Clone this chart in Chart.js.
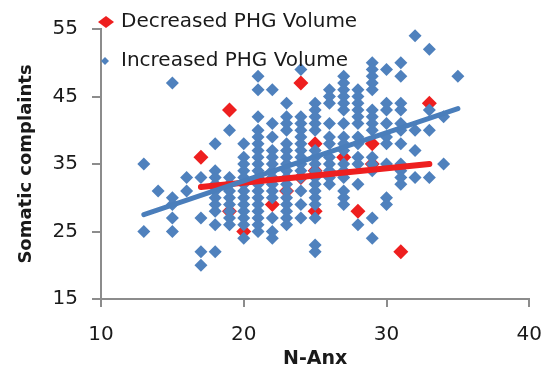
<!DOCTYPE html>
<html>
<head>
<meta charset="utf-8">
<script src="https://cdn.jsdelivr.net/npm/chart.js@4.4.0/dist/chart.umd.min.js"></script>
<style>
  body { margin: 0; background: #fff; }
  canvas { display: block; }
</style>
</head>
<body>
<canvas id="myChart" width="558" height="369"></canvas>
<script>
// N-Anx columns and the somatic complaint scores stacked at each of them
const incXs = [13, 14, 15, 16, 17, 18, 19, 20, 21, 22, 23, 24, 25, 26, 27, 28, 29, 30, 31, 32, 33, 34, 35];
const incYs = [
    [35, 25],
    [31],
    [47, 30, 29, 27, 25],
    [33, 31],
    [33, 27, 22, 20],
    [38, 34, 33, 32, 31, 30, 29, 28, 26, 22],
    [40, 33, 32, 31, 30, 29, 28, 27, 26],
    [38, 36, 35, 34, 33, 32, 31, 30, 29, 28, 27, 26, 24],
    [48, 46, 42, 40, 39, 38, 37, 36, 35, 34, 33, 32, 31, 30, 29, 28, 27, 26, 25],
    [46, 41, 39, 37, 36, 35, 34, 33, 32, 31, 30, 27, 25, 24],
    [44, 42, 41, 40, 38, 37, 36, 35, 34, 33, 32, 31, 30, 29, 28, 27, 26],
    [49, 42, 41, 40, 39, 38, 37, 36, 35, 34, 33, 31, 29, 27],
    [44, 43, 42, 41, 40, 37, 36, 35, 34, 33, 32, 31, 30, 29, 27, 23, 22],
    [46, 45, 44, 41, 39, 38, 36, 35, 34, 33, 32],
    [48, 47, 46, 45, 44, 43, 41, 39, 38, 37, 35, 34, 33, 31, 30, 29],
    [46, 45, 44, 43, 42, 41, 39, 38, 36, 35, 32, 26],
    [50, 49, 48, 47, 46, 43, 42, 41, 40, 36, 35, 34, 27, 24],
    [49, 44, 43, 41, 39, 38, 35, 30, 29],
    [50, 48, 44, 43, 41, 40, 38, 35, 34, 33, 32],
    [54, 40, 37, 33],
    [52, 43, 40, 33],
    [42, 35],
    [48]
];

const decX = [17, 19, 24, 20, 25, 29, 33, 28, 31, 25, 22, 19, 23, 24, 25, 27, 29];
const decY = [36, 43, 47, 25, 38, 38, 44, 28, 22, 28, 29, 28, 31, 33, 34, 36, 35];

// trend line end points
const incTrendX = [13, 35];
const incTrendY = [27.5, 43.2];
const decTrendX = [17, 33];
const decTrendY = [31.6, 35.0];

const xTicks = [10, 20, 30, 40];
const yTicks = [15, 25, 35, 45, 55];

const blue = "#4F81BD";
const red = "#EE1F1F";
const axisGray = "#8C8C8C";

const incPoints = incYs.flatMap((ys, i) => ys.map(y => ({ x: incXs[i], y: y })));
const decPoints = decX.map((x, i) => ({ x: x, y: decY[i] }));
const incTrend = incTrendX.map((x, i) => ({ x: x, y: incTrendY[i] }));
const decTrend = decTrendX.map((x, i) => ({ x: x, y: decTrendY[i] }));

function diamond(ctx, cx, cy, hw, hh, color) {
    ctx.beginPath();
    ctx.moveTo(cx, cy - hh);
    ctx.lineTo(cx + hw, cy);
    ctx.lineTo(cx, cy + hh);
    ctx.lineTo(cx - hw, cy);
    ctx.closePath();
    ctx.fillStyle = color;
    ctx.fill();
}

// legend sits inside the plot at the top left, drawn by hand
const legendBox = {
    id: "legendBox",
    afterDraw(chart) {
        const ctx = chart.ctx;
        ctx.save();
        diamond(ctx, 106, 22, 8, 6, red);
        diamond(ctx, 105, 61, 4, 4, blue);
        ctx.font = "20px 'DejaVu Sans'";
        ctx.fillStyle = "#1a1a1a";
        ctx.textBaseline = "middle";
        ctx.fillText("Decreased PHG Volume", 121, 22);
        ctx.fillText("Increased PHG Volume", 121, 61);
        ctx.restore();
    }
};

const config = {
    type: "scatter",
    data: {
        datasets: [
            {
                label: "Decreased PHG Volume",
                data: decPoints,
                pointStyle: "rectRot",
                pointRadius: 7.5,
                pointBorderWidth: 0,
                backgroundColor: red,
                borderColor: red,
                order: 4
            },
            {
                label: "Increased PHG Volume",
                data: incPoints,
                pointStyle: "rectRot",
                pointRadius: 6.5,
                pointBorderWidth: 0,
                backgroundColor: blue,
                borderColor: blue,
                order: 3
            },
            {
                label: "Decreased trend",
                data: decTrend,
                showLine: true,
                pointRadius: 0,
                borderColor: red,
                borderWidth: 6,
                borderCapStyle: "round",
                order: 2
            },
            {
                label: "Increased trend",
                data: incTrend,
                showLine: true,
                pointRadius: 0,
                borderColor: "#4A7EBB",
                borderWidth: 5,
                borderCapStyle: "round",
                order: 1
            }
        ]
    },
    options: {
        responsive: false,
        animation: false,
        events: [],
        layout: { padding: { top: 29, right: 16, bottom: 0, left: 0 } },
        plugins: {
            legend: { display: false },
            tooltip: { enabled: false }
        },
        scales: {
            x: {
                type: "linear",
                min: 10,
                max: 40,
                afterBuildTicks: s => { s.ticks = xTicks.map(v => ({ value: v })); },
                afterFit: s => { s.height = 70; },
                grid: { drawOnChartArea: false, drawTicks: true, tickLength: 8, color: axisGray, lineWidth: 2 },
                border: { display: true, color: axisGray, width: 2 },
                ticks: { color: "#1a1a1a", padding: 16, font: { family: "DejaVu Sans", size: 20 } },
                title: {
                    display: true,
                    text: "N-Anx",
                    color: "#1a1a1a",
                    padding: { top: 0, bottom: 0 },
                    font: { family: "DejaVu Sans", size: 19, weight: "bold", lineHeight: 1 }
                }
            },
            y: {
                type: "linear",
                min: 15,
                max: 55,
                afterBuildTicks: s => { s.ticks = yTicks.map(v => ({ value: v })); },
                afterFit: s => { s.width = 101; },
                grid: { drawOnChartArea: false, drawTicks: true, tickLength: 9, color: axisGray, lineWidth: 2 },
                border: { display: true, color: axisGray, width: 2 },
                ticks: { color: "#1a1a1a", padding: 14, font: { family: "DejaVu Sans", size: 20 } },
                title: {
                    display: true,
                    text: "Somatic complaints",
                    color: "#1a1a1a",
                    padding: { top: 17, bottom: 0 },
                    font: { family: "DejaVu Sans", size: 18, weight: "bold", lineHeight: 1 }
                }
            }
        }
    },
    plugins: [legendBox]
};

window.onload = () => {
    new Chart(document.getElementById("myChart"), config);
};
</script>
</body>
</html>
